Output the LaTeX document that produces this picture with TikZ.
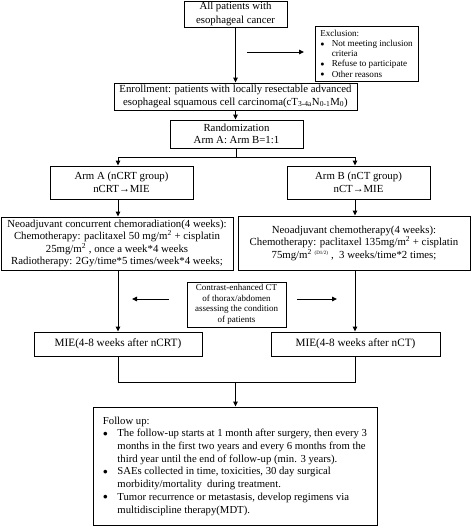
\documentclass[tikz,border=0pt]{standalone}
\usepackage{fontspec}
\setmainfont{Liberation Serif}
\usetikzlibrary{arrows.meta}
\newcommand{\bulA}{\makebox[14.5pt][l]{\raisebox{0.4pt}{\fontsize{8.5}{8}\selectfont ●}}}
\newcommand{\bulE}{\makebox[11.5pt][l]{\raisebox{0.3pt}{\fontsize{7}{6}\selectfont ●}}}
\begin{document}
\begin{tikzpicture}[x=1pt,y=-1pt,
  box/.style={draw, line width=0.9pt, inner sep=0pt, align=center, font=\fontsize{10.8}{12.5}\selectfont},
  smallbox/.style={draw, line width=0.9pt, inner sep=0pt, align=center, font=\fontsize{9}{10.5}\selectfont},
  exbox/.style={draw, line width=0.9pt, inner sep=0pt, align=left, font=\fontsize{9.1}{10.2}\selectfont},
  fubox/.style={draw, line width=0.9pt, inner sep=0pt, align=left, font=\fontsize{10.7}{12.7}\selectfont},
  ln/.style={line width=0.9pt},
  arr/.style={ln, -{Triangle[length=5pt,width=4.5pt]}}]
\useasboundingbox (0,0) rectangle (472,527);

\node[box, minimum width=103pt, minimum height=26pt, font=\fontsize{10.8}{13.5}\selectfont] (all) at (235.5,14) {All patients with\\esophageal cancer};

\node[exbox, minimum width=103pt, minimum height=55pt] (excl) at (366.5,53.5)
 {Exclusion:\\
  \bulE Not meeting inclusion\\
  \hspace*{11.5pt}criteria\\
  \bulE Refuse to participate\\
  \bulE Other reasons};

\node[box, minimum width=243pt, minimum height=27pt] (enroll) at (235.5,96.5)
 {Enrollment: patients with locally resectable advanced\\esophageal squamous cell carcinoma(cT\textsubscript{3-4a}N\textsubscript{0-1}M\textsubscript{0})};

\node[box, minimum width=133pt, minimum height=28pt] (rand) at (236.5,134)
 {Randomization\\Arm A: Arm B=1:1};

\node[box, minimum width=143pt, minimum height=33pt] (armA) at (121.5,182.5)
 {Arm A (nCRT group)\\nCRT→MIE};
\node[box, minimum width=143pt, minimum height=33pt] (armB) at (358.5,182.5)
 {Arm B (nCT group)\\nCT→MIE};

\node[box, minimum width=232pt, minimum height=53pt] (neoA) at (117,243.5)
 {Neoadjuvant concurrent chemoradiation(4 weeks):\\
  Chemotherapy: paclitaxel 50 mg/m\textsuperscript{2} + cisplatin\\
  25mg/m\textsuperscript{2} , once a week*4 weeks\\
  Radiotherapy: 2Gy/time*5 times/week*4 weeks;};
\node[box, minimum width=232pt, minimum height=54pt] (neoB) at (354,243)
 {Neoadjuvant chemotherapy(4 weeks):\\
  Chemotherapy: paclitaxel 135mg/m\textsuperscript{2} + cisplatin\\
  75mg/m\textsuperscript{2} \textsuperscript{\fontsize{5}{5}\selectfont (D1/2)} ,\ \ 3 weeks/time*2 times;};

\node[smallbox, minimum width=99pt, minimum height=45pt] (ct) at (236.5,304.5)
 {Contrast-enhanced CT\\of thorax/abdomen\\assessing the condition\\of patients};

\node[box, minimum width=168pt, minimum height=24pt, font=\fontsize{11.2}{12.5}\selectfont] (mieA) at (118,344)
 {MIE(4-8 weeks after nCRT)};
\node[box, minimum width=169pt, minimum height=24pt, font=\fontsize{11.2}{12.5}\selectfont] (mieB) at (355.5,344)
 {MIE(4-8 weeks after nCT)};

\node[fubox, minimum width=284pt, minimum height=118pt] (fu) at (235,466)
 {Follow up:\\
  \bulA The follow-up starts at 1 month after surgery, then every 3\\
  \hspace*{14.5pt}months in the first two years and every 6 months from the\\
  \hspace*{14.5pt}third year until the end of follow-up (min. 3 years).\\
  \bulA SAEs collected in time, toxicities, 30 day surgical\\
  \hspace*{14.5pt}morbidity/mortality\ \ during treatment.\\
  \bulA Tumor recurrence or metastasis, develop regimens via\\
  \hspace*{14.5pt}multidiscipline therapy(MDT).};

% connectors
\draw[arr] (all.south) -- (enroll.north);
\coordinate (exA) at (247,52);
\coordinate (exB) at (304,52);
\draw[arr] (exA) -- (exB);
\draw[arr] (enroll.south) -- (enroll.south |- rand.north);

\coordinate (jL) at (118,157);
\coordinate (jR) at (355,157);
\draw[ln] (rand.south) -- (rand.south |- jL);
\draw[ln] (jL) -- (jR);
\draw[arr] (jL) -- (jL |- armA.north);
\draw[arr] (jR) -- (jR |- armB.north);
\draw[arr] (jL |- armA.south) -- (jL |- neoA.north);
\draw[arr] (jR |- armB.south) -- (jR |- neoB.north);
\draw[arr] (jL |- neoA.south) -- (jL |- mieA.north);
\draw[arr] (jR |- neoB.south) -- (jR |- mieB.north);

\coordinate (ctLa) at (169,299);
\coordinate (ctLb) at (132,299);
\coordinate (ctRa) at (297,299);
\coordinate (ctRb) at (337,299);
\draw[arr] (ctLa) -- (ctLb);
\draw[arr] (ctRa) -- (ctRb);

\coordinate (kL) at (118,382);
\coordinate (kR) at (355,382);
\coordinate (kM) at (235.5,382);
\draw[ln] (jL |- mieA.south) -- (kL) -- (kR) -- (jR |- mieB.south);
\draw[arr] (kM) -- (kM |- fu.north);
\end{tikzpicture}
\end{document}
